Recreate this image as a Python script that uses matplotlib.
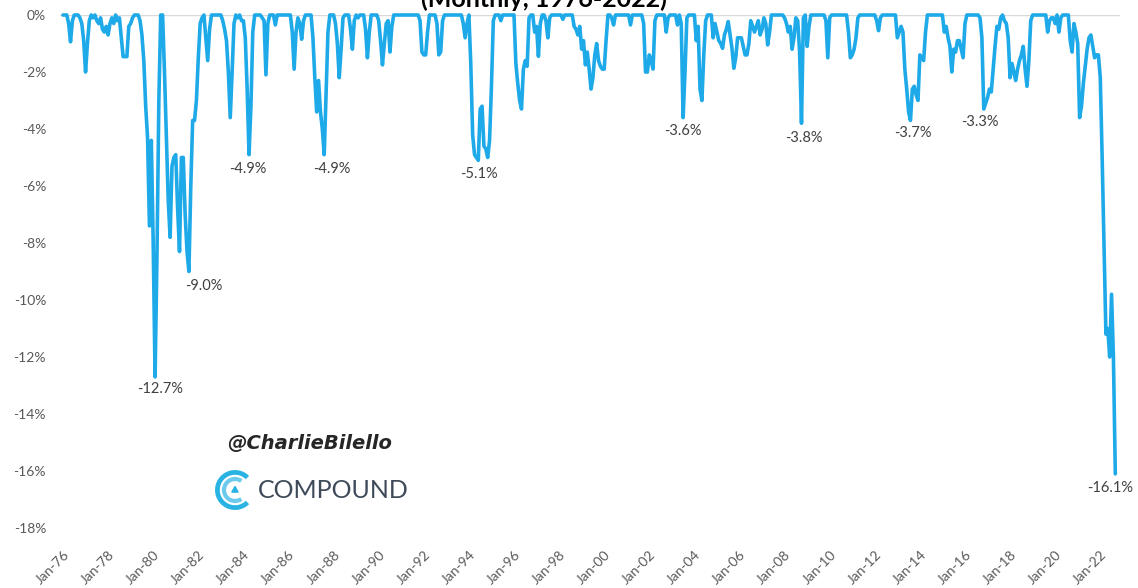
import numpy as np
import matplotlib
matplotlib.use("Agg")
import matplotlib.pyplot as plt
from matplotlib.patches import Arc, Polygon

# Monthly drawdown from prior peak (%), January 1976 through September 2022
dd_1976_1979 = [
    0.0, 0.0, 0.0, -0.3, -0.94, -0.2, 0.0, 0.0, 0.0, -0.1, -0.3, -0.9,
    -2.0, -1.0, -0.2, 0.0, -0.1, 0.0, -0.2, -0.3, -0.1, -0.5, -0.6, -0.4,
    -0.7, -0.3, -0.1, -0.3, 0.0, -0.2, -0.1, -0.8, -1.46, -1.46, -1.46, -0.4,
    -0.3, -0.1, 0.0, 0.0, 0.0, -0.2, -0.7, -1.6, -3.2, -4.3, -7.4, -4.4,
]
dd_1980s = [
    -8.0, -12.7, -8.5, -3.0, 0.0, 0.0, -2.0, -4.2, -6.5, -7.8, -5.3, -5.0,
    -4.9, -6.8, -8.3, -5.0, -5.0, -7.0, -8.3, -9.0, -6.0, -3.7, -3.7, -3.0,
    -1.5, -0.3, -0.1, 0.0, -0.8, -1.6, -0.5, 0.0, 0.0, 0.0, 0.0, 0.0,
    0.0, -0.2, -0.5, -0.9, -2.0, -3.6, -2.0, -0.3, 0.0, -0.1, 0.0, -0.2,
    -0.2, -0.8, -2.6, -4.9, -3.2, -0.6, 0.0, 0.0, 0.0, 0.0, -0.1, -0.2,
    -2.1, -0.3, 0.0, 0.0, 0.0, -0.35, 0.0, 0.0, 0.0, 0.0, 0.0, 0.0,
    0.0, 0.0, -0.6, -1.9, -0.6, -0.1, -0.3, -0.85, -0.2, 0.0, 0.0, 0.0,
    0.0, -0.8, -2.2, -3.4, -2.3, -3.4, -4.0, -4.9, -2.8, -0.6, 0.0, 0.0,
    0.0, -0.3, -1.0, -2.2, -1.2, -0.1, 0.0, 0.0, 0.0, -0.5, -1.2, -0.2,
    0.0, -0.1, 0.0, 0.0, 0.0, -0.5, -1.5, -0.6, 0.0, 0.0, 0.0, 0.0,
]
dd_1990s = [
    -0.2, -0.9, -1.75, -1.0, -0.3, -0.2, -1.3, -0.4, 0.0, 0.0, 0.0, 0.0,
    0.0, 0.0, 0.0, 0.0, 0.0, 0.0, 0.0, 0.0, 0.0, 0.0, -0.2, -1.3,
    -1.4, -1.4, -0.6, 0.0, 0.0, 0.0, 0.0, -0.3, -1.4, -1.3, -0.2, 0.0,
    0.0, 0.0, 0.0, 0.0, 0.0, 0.0, 0.0, 0.0, 0.0, -0.3, -0.8, -0.3,
    0.0, -1.7, -4.2, -4.9, -5.0, -5.1, -3.3, -3.2, -4.6, -4.7, -5.0, -4.4,
    -2.5, -0.2, 0.0, 0.0, 0.0, -0.2, 0.0, 0.0, 0.0, 0.0, 0.0, 0.0,
    0.0, -1.7, -2.4, -3.0, -3.3, -1.9, -1.6, -1.8, -0.1, 0.0, 0.0, -0.6,
    -0.4, -1.45, -0.3, 0.0, 0.0, -0.2, -0.8, -0.1, 0.0, 0.0, 0.0, 0.0,
    0.0, 0.0, -0.15, 0.0, 0.0, 0.0, 0.0, 0.0, -0.4, -0.5, -0.7, -0.4,
    -1.2, -0.9, -1.75, -1.3, -1.9, -2.6, -2.2, -1.4, -1.0, -1.6, -1.8, -1.9,
]
dd_2000s = [
    -1.9, -0.9, 0.0, 0.0, -0.1, -0.35, 0.0, 0.0, 0.0, 0.0, 0.0, 0.0,
    0.0, 0.0, -0.35, 0.0, 0.0, 0.0, 0.0, 0.0, 0.0, -0.3, -2.0, -2.0,
    -1.4, -1.6, -1.9, -0.2, 0.0, 0.0, 0.0, 0.0, 0.0, -0.6, -0.1, 0.0,
    0.0, 0.0, 0.0, -0.35, 0.0, -0.3, -3.6, -2.0, -0.1, 0.0, 0.0, 0.0,
    0.0, -0.9, -0.4, -2.6, -3.0, -1.4, -0.2, 0.0, 0.0, 0.0, -0.8, -0.3,
    -0.6, -0.9, -1.0, -1.17, -0.7, -0.5, -0.23, -0.7, -1.17, -1.87, -1.5, -0.8,
    -0.8, -0.8, -1.1, -1.4, -1.4, -1.0, -0.2, -0.4, -0.6, -0.4, -0.2, -0.7,
    -0.5, -0.1, -0.3, -1.05, -0.6, 0.0, 0.0, 0.0, 0.0, 0.0, 0.0, 0.0,
    -0.1, -0.3, -0.6, -0.4, -1.2, -0.8, -0.1, -0.2, -1.3, -3.8, -0.1, 0.0,
    -1.1, -0.4, 0.0, 0.0, 0.0, 0.0, 0.0, 0.0, 0.0, 0.0, -0.2, -1.5,
]
dd_2010s = [
    -0.1, 0.0, 0.0, 0.0, 0.0, 0.0, 0.0, 0.0, 0.0, 0.0, -0.6, -1.5,
    -1.4, -1.2, -0.8, -0.1, 0.0, 0.0, 0.0, 0.0, 0.0, 0.0, 0.0, 0.0,
    0.0, -0.2, -0.55, -0.1, 0.0, 0.0, 0.0, 0.0, 0.0, 0.0, 0.0, 0.0,
    -0.8, -0.6, -0.4, -0.6, -1.9, -2.6, -3.4, -3.7, -2.6, -2.5, -2.8, -3.0,
    -1.4, -1.5, -1.6, -0.6, 0.0, 0.0, 0.0, 0.0, 0.0, 0.0, 0.0, 0.0,
    0.0, -0.6, -0.4, -0.8, -1.1, -2.0, -1.2, -1.3, -0.9, -0.9, -1.2, -1.5,
    -0.3, 0.0, 0.0, 0.0, 0.0, 0.0, 0.0, 0.0, -0.1, -0.8, -3.3, -3.1,
    -2.9, -2.6, -2.7, -1.9, -1.1, -0.4, -0.5, -0.1, 0.0, -0.2, -0.3, -0.8,
    -2.2, -1.7, -2.0, -2.3, -1.9, -1.6, -1.4, -1.1, -1.9, -2.5, -1.6, -0.2,
    0.0, 0.0, 0.0, 0.0, 0.0, 0.0, 0.0, 0.0, -0.6, -0.2, -0.1, -0.1,
]
dd_2020s = [
    -0.3, 0.0, -0.6, -0.1, 0.0, 0.0, 0.0, 0.0, -0.9, -1.3, -0.3, -0.6,
    -1.0, -3.6, -3.2, -2.4, -1.8, -1.2, -0.8, -0.7, -1.1, -1.5, -1.4, -1.4,
    -2.2, -5.0, -8.1, -11.2, -11.0, -12.0, -9.8, -12.0, -16.1,
]

start_year = 1976
y_ticks = [0, -2, -4, -6, -8, -10, -12, -14, -16, -18]

# Troughs that carry a value label (month index from Jan-1976)
labelled_months = [49, 67, 99, 139, 221, 330, 393, 451, 490, 560]
# Label placement relative to each trough, in pixels
label_offsets = [(5, -12), (15, -14), (-1, -14), (8, -14), (1, -14),
                 (0, -13), (2, -15), (2, -13), (-4, -13), (-5, -14)]

drawdown = np.array(dd_1976_1979 + dd_1980s + dd_1990s + dd_2000s
                    + dd_2010s + dd_2020s)
months = np.arange(len(drawdown))
tick_idx = np.arange(0, len(drawdown), 24)
tick_labels = [f"Jan-{(start_year + i // 12) % 100:02d}" for i in tick_idx]

W, H = 1138, 588
fig = plt.figure(figsize=(W / 100, H / 100), dpi=100)
fig.patch.set_facecolor("white")
base_font = ["Lato", "DejaVu Sans"]

ax = fig.add_axes([60 / W, 60 / H, 1060 / W, 513 / H])
ax.axhline(0, color="#D9D9D9", lw=1.0, zorder=1)
ax.plot(months, drawdown, color="#1EA9E8", lw=2.6, zorder=3, clip_on=False,
        solid_joinstyle="round", solid_capstyle="round")

ax.set_xlim(-1.6, 562.5)
ax.set_ylim(-18, 0)
for s in ax.spines.values():
    s.set_visible(False)

ax.set_yticks(y_ticks)
ax.set_yticklabels([f"{v}%" for v in y_ticks], family=base_font,
                   fontsize=10, color="#595959")
ax.tick_params(axis="y", length=0, pad=10)

ax.set_xticks(tick_idx)
ax.set_xticklabels(tick_labels, rotation=45, ha="right", va="top",
                   rotation_mode="anchor", family=base_font, fontsize=10,
                   color="#595959")
ax.tick_params(axis="x", length=0, pad=15)

for m, (dx, dy) in zip(labelled_months, label_offsets):
    v = drawdown[m]
    ax.annotate(f"{v:.1f}%", xy=(m, v), xytext=(dx, dy),
                textcoords="offset pixels", ha="center", va="center",
                family=base_font, fontsize=10.5, color="#404040", zorder=4)

fig.text(544 / W, 1 - 7 / H, "(Monthly, 1976-2022)", ha="center",
         va="baseline", family=base_font, fontweight="bold", fontsize=18,
         color="#000000")

# Author handle and firm wordmark
fig.text(227 / W, 1 - 444 / H, "@CharlieBilello", ha="left", va="center",
         family="DejaVu Sans", fontstyle="oblique", fontweight="bold",
         fontsize=14, color="#262626")
fig.text(258 / W, 1 - 491 / H, "COMPOUND", ha="left", va="center",
         family=base_font, fontsize=18, color="#3E4A59")

logo = fig.add_axes([214 / W, 1 - 512 / H, 42 / W, 44 / H])
logo.set_xlim(-1.15, 1.15)
logo.set_ylim(-1.25, 1.25)
logo.set_aspect("equal")
logo.axis("off")
logo.add_patch(Arc((0, 0), 2.0, 2.0, theta1=45, theta2=315, lw=3.4,
                   color="#29B3E3"))
logo.add_patch(Arc((0, 0), 1.25, 1.25, theta1=55, theta2=305, lw=3.0,
                   color="#6CCBEC"))
logo.add_patch(Polygon([(-0.18, -0.12), (0.18, -0.12), (0.0, 0.2)],
                       closed=True, color="#29B3E3"))

fig.savefig("out.png", dpi=100, facecolor="white")
